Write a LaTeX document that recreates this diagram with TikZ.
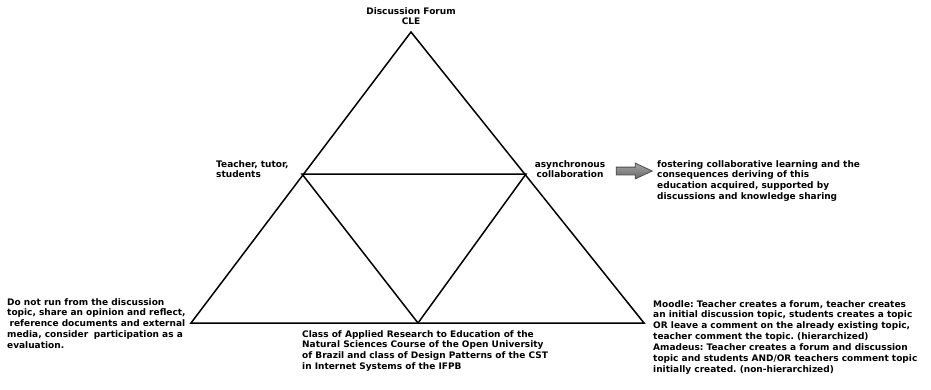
\documentclass[tikz,border=0pt]{standalone}
\usepackage{fontspec}
\setmainfont{DejaVu Sans}
\usetikzlibrary{shapes.arrows}
\frenchspacing

\tikzstyle{edge} = [line width=1.5pt,line join=miter]
\tikzstyle{label} = [inner sep=0pt,align=left,font=\fontsize{9}{10.9}\selectfont\bfseries]
\tikzstyle{bigarrow} = [single arrow,draw=black!70,line width=0.8pt,top color=gray!70,bottom color=black!60,minimum height=36pt,minimum width=15pt,inner sep=3.5pt,single arrow head extend=4pt,single arrow tip angle=50]

\begin{document}
\begin{tikzpicture}[x=1pt,y=-1pt]
    \useasboundingbox (0,0) rectangle (931,389);
	% triangle corners
	\coordinate (T) at (411,32);
	\coordinate (L) at (191,323);
	\coordinate (R) at (644,323);
	\coordinate (ML) at (302,174);
	\coordinate (MR) at (526,174);
	\coordinate (MB) at (418,323);
	\draw[edge] (T) -- (L) -- (R) -- cycle;
	\draw[edge] (ML) -- (MR) -- (MB) -- cycle;
	% labels
	\node[label,align=center,anchor=north] (forum) at (411,7) {Discussion Forum\\CLE};
	\node[label,anchor=north west] (actors) at (216,160) {Teacher, tutor,\\students};
	\node[label,align=center,anchor=north] (async) at (570,160) {asynchronous\\collaboration};
	\node[bigarrow] (arr) at (630,171) {};
	\node[label,anchor=north west] (goal) at (657,160) {fostering collaborative learning and the\\consequences deriving of this\\education acquired, supported by\\discussions and knowledge sharing};
	\node[label,anchor=north west] (rules) at (7,298) {Do not run from the discussion\\topic, share an opinion and reflect,\\\hspace{2.5pt}reference documents and external\\media, consider\hspace{2.5pt} participation as a\\evaluation.};
	\node[label,anchor=north west] (context) at (302,330) {Class of Applied Research to Education of the\\Natural Sciences Course of the Open University\\of Brazil and class of Design Patterns of the CST\\in Internet Systems of the IFPB};
	\node[label,anchor=north west] (tools) at (653,300) {Moodle: Teacher creates a forum, teacher creates\\an initial discussion topic, students creates a topic\\OR leave a comment on the already existing topic,\\teacher comment the topic. (hierarchized)\\Amadeus: Teacher creates a forum and discussion\\topic and students AND/OR teachers comment topic\\initially created. (non-hierarchized)};
\end{tikzpicture}
\end{document}
